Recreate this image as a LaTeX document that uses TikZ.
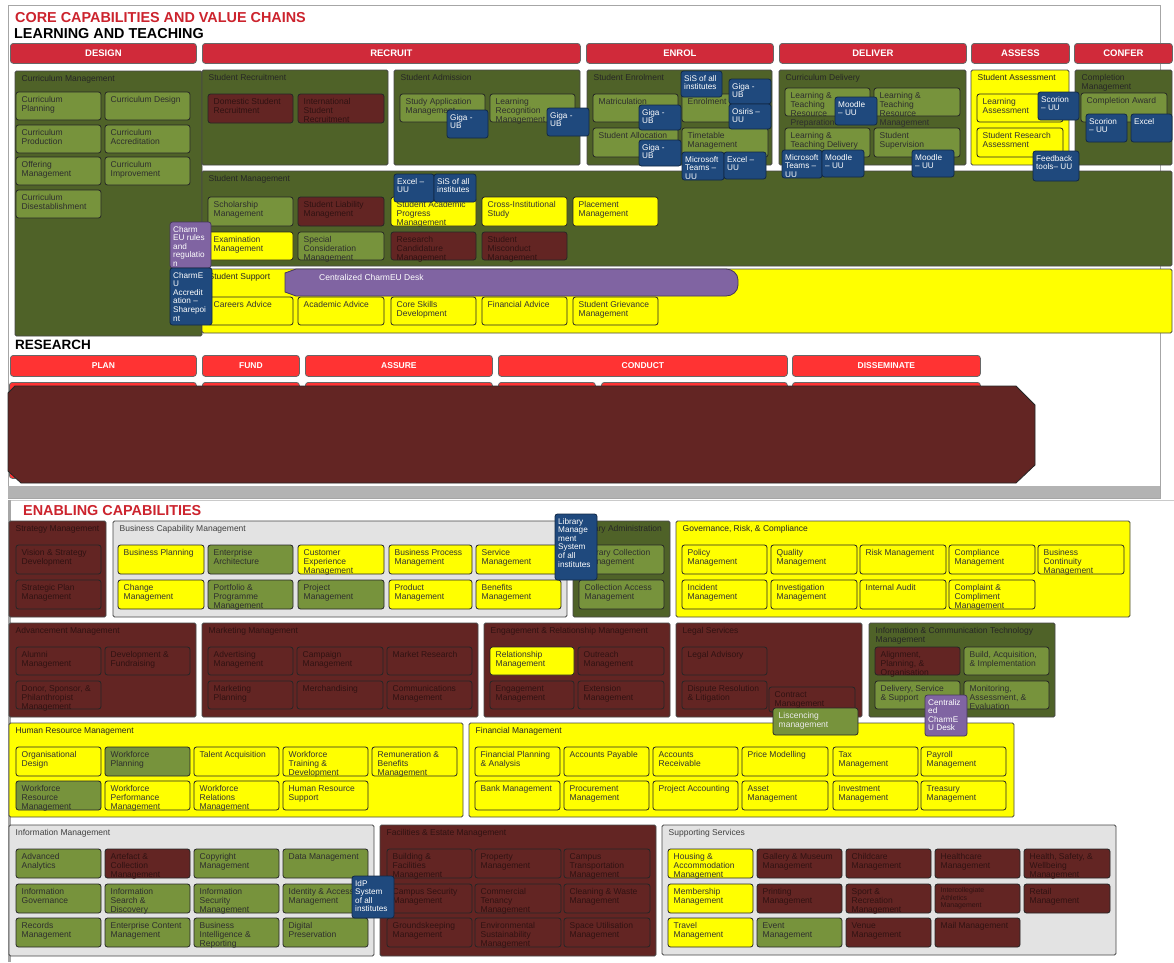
\documentclass[tikz,border=0pt]{standalone}
\usepackage{fontspec}
\setmainfont{Liberation Sans}
\definecolor{dolive}{RGB}{79,98,40}
\definecolor{lolive}{RGB}{119,147,60}
\definecolor{maroonc}{RGB}{99,37,35}
\definecolor{yel}{RGB}{255,255,0}
\definecolor{blu}{RGB}{31,73,125}
\definecolor{purp}{RGB}{128,100,162}
\definecolor{crim}{RGB}{208,42,58}
\definecolor{resred}{RGB}{255,51,51}
\definecolor{lgray}{RGB}{227,227,227}
\definecolor{framec}{RGB}{166,166,166}
\definecolor{edge}{RGB}{38,38,38}
\definecolor{mtext}{RGB}{48,18,18}
\definecolor{titlered}{RGB}{204,35,45}
\newcommand\mybox[7]{%
  \node[cell,#6,minimum width=#4pt,minimum height=#5pt] (#1) at (#2,#3) {};
  \node[txt,#6t] (#1t) at ({#2+5.5},{#3+4.5}) {#7};}
\newcommand\mycont[7]{%
  \node[cont,#6,minimum width=#4pt,minimum height=#5pt] (#1) at (#2,#3) {};
  \node[txt,#6t] (#1t) at ({#2+6.5},{#3+4.5}) {#7};}
\newcommand\myov[7]{%
  \node[cell,#6,minimum width=#4pt,minimum height=#5pt] (#1) at (#2,#3) {};
  \node[otxt] (#1t) at ({#2+3},{#3+4}) {#7};}
\tikzset{
  cell/.style={draw=edge, line width=0.8pt, rounded corners=2.5pt, anchor=north west, inner sep=0pt, outer sep=0pt},
  cont/.style={draw=edge!85, line width=0.8pt, rounded corners=1.5pt, anchor=north west, inner sep=0pt, outer sep=0pt},
  txt/.style={anchor=north west, align=left, inner sep=0pt, font=\fontsize{8.5}{9}\selectfont},
  otxt/.style={anchor=north west, align=left, inner sep=0pt, font=\fontsize{8.2}{8.6}\selectfont, text=white},
  G/.style={fill=lolive}, Gt/.style={text=black!82},
  GL/.style={fill=lolive}, GLt/.style={text=white!92!black},
  Y/.style={fill=yel}, Yt/.style={text=black!80},
  M/.style={fill=maroonc}, Mt/.style={text=mtext},
  B/.style={fill=blu, draw=blu!55!black},
  P/.style={fill=purp, draw=purp!55!black},
  CO/.style={fill=dolive}, COt/.style={text=black!85},
  CM/.style={fill=maroonc}, CMt/.style={text=mtext},
  CY/.style={fill=yel}, CYt/.style={text=black!85},
  CG/.style={fill=lgray}, CGt/.style={text=black!75},
  hdr/.style={draw=edge!70, line width=0.8pt, fill=crim, rounded corners=3pt, text=white, font=\bfseries\fontsize{9.5}{10}\selectfont, inner sep=0pt, anchor=north west},
  rhdr/.style={draw=edge!70, line width=0.8pt, fill=resred, rounded corners=3pt, text=white, font=\bfseries\fontsize{8.5}{9}\selectfont, inner sep=0pt, anchor=north west},
  bigtitle/.style={anchor=west, inner sep=0pt, font=\bfseries\fontsize{14.4}{15}\selectfont}
}
\begin{document}
\begin{tikzpicture}[x=1pt,y=-1pt]
\useasboundingbox (0,0) rectangle (1174,962);
\fill[white] (0,0) rectangle (1174,962);
% frames
\draw[framec, line width=1pt] (8,5) rectangle (1160,498);
\fill[framec!85] (8,486) rectangle (1160,498);
\draw[framec!60, line width=0.8pt] (8,500) -- (1174,500);
\fill[framec] (8,500) rectangle (11,962);
% titles
\node[bigtitle, text=titlered] (tcore) at (15,18) {CORE CAPABILITIES AND VALUE CHAINS};
\node[bigtitle, text=black] (tlt) at (14,33.5) {LEARNING AND TEACHING};
% headers
\node[hdr, minimum width=186pt, minimum height=20pt] (hdesign) at (10,43) {DESIGN};
\node[hdr, minimum width=378pt, minimum height=20pt] (hrecruit) at (202,43) {RECRUIT};
\node[hdr, minimum width=187pt, minimum height=20pt] (henrol) at (586,43) {ENROL};
\node[hdr, minimum width=187pt, minimum height=20pt] (hdeliver) at (779,43) {DELIVER};
\node[hdr, minimum width=98pt, minimum height=20pt] (hassess) at (971,43) {ASSESS};
\node[hdr, minimum width=98pt, minimum height=20pt] (hconfer) at (1074,43) {CONFER};
% Curriculum management
\mycont{cm}{15}{71}{187}{265}{CO}{Curriculum Management}
\mybox{cplan}{16}{92}{85}{28}{G}{Curriculum\\Planning}
\mybox{cdes}{105}{92}{85}{28}{G}{Curriculum Design}
\mybox{cprod}{16}{125}{85}{28}{G}{Curriculum\\Production}
\mybox{cacc}{105}{125}{85}{28}{G}{Curriculum\\Accreditation}
\mybox{coff}{16}{157}{85}{28}{G}{Offering\\Management}
\mybox{cimp}{105}{157}{85}{28}{G}{Curriculum\\Improvement}
\mybox{cdis}{16}{190}{85}{28}{G}{Curriculum\\Disestablishment}
% recruit
\mycont{sr}{202}{70}{186}{95}{CO}{Student Recruitment}
\mybox{dsr}{208}{94}{85}{29}{M}{Domestic Student\\Recruitment}
\mybox{isr}{298}{94}{86}{29}{M}{International\\Student\\Recruitment}
\mycont{sa}{394}{70}{186}{95}{CO}{Student Admission}
\mybox{sam}{400}{94}{85}{28}{G}{Study Application\\Management}
\mybox{lrm}{490}{94}{85}{28}{G}{Learning\\Recognition\\Management}
% enrol
\mycont{se}{587}{70}{185}{95}{CO}{Student Enrolment}
\mybox{mat}{593}{94}{85}{28}{G}{Matriculation}
\mybox{enr}{682}{94}{86}{28}{G}{Enrolment}
\mybox{sal}{593}{128}{85}{29}{G}{Student Allocation}
\mybox{ttm}{682}{128}{86}{29}{G}{Timetable\\Management}
% deliver
\mycont{cdl}{779}{70}{187}{95}{CO}{Curriculum Delivery}
\mybox{ltp}{785}{88}{85}{28}{G}{Learning \&\\Teaching\\Resource\\Preparation}
\mybox{ltm}{874}{88}{86}{28}{G}{Learning \&\\Teaching\\Resource\\Management}
\mybox{ltd}{785}{128}{85}{29}{G}{Learning \&\\Teaching Delivery}
\mybox{ssu}{874}{128}{86}{29}{G}{Student\\Supervision}
% assess
\mycont{sas}{971}{70}{98}{95}{CY}{Student Assessment}
\mybox{las}{977}{94}{86}{28}{Y}{Learning\\Assessment}
\mybox{sra}{977}{128}{86}{29}{Y}{Student Research\\Assessment}
% confer
\mycont{cpm}{1075}{70}{97}{95}{CO}{Completion\\Management}
\mybox{caw}{1081}{93}{86}{29}{G}{Completion Award}
% student management
\mycont{sm}{202}{171}{970}{95}{CO}{Student Management}
\mybox{schm}{208}{197}{85}{29}{G}{Scholarship\\Management}
\mybox{slm}{298}{197}{86}{29}{M}{Student Liability\\Management}
\mybox{sapm}{391}{197}{85}{29}{Y}{Student Academic\\Progress\\Management}
\mybox{cis}{482}{197}{85}{29}{Y}{Cross-Institutional\\Study}
\mybox{plm}{573}{197}{85}{29}{Y}{Placement\\Management}
\mybox{exm}{208}{232}{85}{28}{Y}{Examination\\Management}
\mybox{scm}{298}{232}{86}{28}{G}{Special\\Consideration\\Management}
\mybox{rcm}{391}{232}{85}{28}{M}{Research\\Candidature\\Management}
\mybox{smm}{482}{232}{85}{28}{M}{Student\\Misconduct\\Management}
% student support
\mycont{ssp}{202}{269}{970}{64}{CY}{Student Support}
\mybox{car}{208}{297}{85}{28}{Y}{Careers Advice}
\mybox{aca}{298}{297}{86}{28}{Y}{Academic Advice}
\mybox{csd}{391}{297}{85}{28}{Y}{Core Skills\\Development}
\mybox{fia}{482}{297}{85}{28}{Y}{Financial Advice}
\mybox{sgm}{573}{297}{85}{28}{Y}{Student Grievance\\Management}
\draw[fill=purp, draw=purp!55!black, line width=0.8pt] (296,269) -- (726,269) to[out=0,in=90] (738,280) -- (738,285) to[out=-90,in=0] (726,296) -- (296,296) -- (285,292) -- (285,273) -- cycle;
\node[anchor=west, inner sep=0pt, text=white, font=\fontsize{8.5}{9}\selectfont] (desk) at (319,277.5) {Centralized CharmEU Desk};
% overlays core
\myov{g1}{447}{110}{41}{28}{B}{Giga -\\UB}
\myov{g2}{547}{108}{42}{28}{B}{Giga -\\UB}
\myov{sis1}{681}{71}{41}{26}{B}{SiS of all\\institutes}
\myov{g3}{729}{79}{42}{25}{B}{Giga -\\UB}
\myov{osi}{729}{104}{42}{25}{B}{Osiris –\\UU}
\myov{g4}{639}{105}{42}{25}{B}{Giga -\\UB}
\myov{g5}{639}{140}{42}{26}{B}{Giga -\\UB}
\myov{mt1}{682}{152}{42}{28}{B}{Microsoft\\Teams –\\UU}
\myov{ex1}{724}{152}{42}{27}{B}{Excel –\\UU}
\myov{mo1}{835}{97}{42}{28}{B}{Moodle\\– UU}
\myov{mt2}{782}{150}{40}{28}{B}{Microsoft\\Teams –\\UU}
\myov{mo2}{822}{150}{42}{27}{B}{Moodle\\– UU}
\myov{mo3}{912}{150}{42}{27}{B}{Moodle\\– UU}
\myov{sc1}{1038}{92}{41}{28}{B}{Scorion\\– UU}
\myov{fbt}{1033}{151}{46}{30}{B}{Feedback\\tools– UU}
\myov{sc2}{1086}{114}{41}{28}{B}{Scorion\\– UU}
\myov{ex2}{1131}{114}{41}{28}{B}{Excel}
\myov{ex3}{394}{174}{40}{28}{B}{Excel –\\UU}
\myov{sis2}{434}{174}{42}{28}{B}{SiS of all\\institutes}
\myov{rules}{170}{222}{41}{46}{P}{Charm\\EU rules\\and\\regulatio\\n}
\myov{accr}{170}{268}{42}{57}{B}{CharmE\\U\\Accredit\\ation –\\Sharepoi\\nt}
% research
\node[bigtitle, text=black, font=\bfseries\fontsize{13.5}{14}\selectfont] (tres) at (15,345) {RESEARCH};
\node[rhdr, minimum width=186pt, minimum height=21pt] (rplan) at (10,355) {PLAN};
\node[rhdr, minimum width=97pt, minimum height=21pt] (rfund) at (202,355) {FUND};
\node[rhdr, minimum width=187pt, minimum height=21pt] (rassure) at (305,355) {ASSURE};
\node[rhdr, minimum width=289pt, minimum height=21pt] (rconduct) at (498,355) {CONDUCT};
\node[rhdr, minimum width=188pt, minimum height=21pt] (rdiss) at (792,355) {DISSEMINATE};
\node[rhdr, minimum width=187pt, minimum height=96pt] (r2a) at (9,382) {};
\node[rhdr, minimum width=97pt, minimum height=96pt] (r2b) at (202,382) {};
\node[rhdr, minimum width=187pt, minimum height=96pt] (r2c) at (305,382) {};
\node[rhdr, minimum width=97pt, minimum height=96pt] (r2d) at (498,382) {};
\node[rhdr, minimum width=186pt, minimum height=96pt] (r2e) at (601,382) {};
\node[rhdr, minimum width=188pt, minimum height=96pt] (r2f) at (792,382) {};
\draw[fill=maroonc, draw=edge, line width=0.8pt] (15,386) -- (1016,386) -- (1035,405) -- (1035,465) -- (1016,483) -- (21,483) -- (8,471) -- (8,393) -- cycle;
% enabling
\node[bigtitle, text=titlered] (tena) at (23,510.5) {ENABLING CAPABILITIES};
\mycont{stm}{9}{521}{97}{96}{CM}{Strategy Management}
\mybox{vsd}{16}{545}{85}{29}{M}{Vision \& Strategy\\Development}
\mybox{spm}{16}{580}{85}{29}{M}{Strategic Plan\\Management}
\mycont{bcm}{113}{521}{454}{96}{CG}{Business Capability Management}
\mybox{bpl}{118}{545}{86}{29}{Y}{Business Planning}
\mybox{eaa}{208}{545}{85}{29}{G}{Enterprise\\Architecture}
\mybox{cem}{298}{545}{86}{29}{Y}{Customer\\Experience\\Management}
\mybox{bpm}{389}{545}{83}{29}{Y}{Business Process\\Management}
\mybox{svm}{476}{545}{85}{29}{Y}{Service\\Management}
\mybox{chm}{118}{580}{86}{29}{Y}{Change\\Management}
\mybox{ppm}{208}{580}{85}{29}{G}{Portfolio \&\\Programme\\Management}
\mybox{prm}{298}{580}{86}{29}{G}{Project\\Management}
\mybox{pdm}{389}{580}{83}{29}{Y}{Product\\Management}
\mybox{bem}{476}{580}{85}{29}{Y}{Benefits\\Management}
\mycont{lib}{573}{521}{97}{96}{CO}{Library Administration}
\mybox{lcm}{579}{545}{85}{29}{G}{Library Collection\\Management}
\mybox{cam}{579}{580}{85}{29}{G}{Collection Access\\Management}
\myov{lms}{555}{514}{42}{66}{B}{Library\\Manage\\ment\\System\\of all\\institutes}
\mycont{grc}{676}{521}{454}{96}{CY}{Governance, Risk, \& Compliance}
\mybox{pom}{682}{545}{85}{29}{Y}{Policy\\Management}
\mybox{qum}{771}{545}{86}{29}{Y}{Quality\\Management}
\mybox{rim}{860}{545}{86}{29}{Y}{Risk Management}
\mybox{com}{949}{545}{86}{29}{Y}{Compliance\\Management}
\mybox{bcom}{1038}{545}{86}{29}{Y}{Business\\Continuity\\Management}
\mybox{inm}{682}{580}{85}{29}{Y}{Incident\\Management}
\mybox{ivm}{771}{580}{86}{29}{Y}{Investigation\\Management}
\mybox{iau}{860}{580}{86}{29}{Y}{Internal Audit}
\mybox{ccm}{949}{580}{86}{29}{Y}{Complaint \&\\Compliment\\Management}
\mycont{adv}{9}{623}{187}{94}{CM}{Advancement Management}
\mybox{alm}{16}{647}{85}{28}{M}{Alumni\\Management}
\mybox{dfr}{105}{647}{85}{28}{M}{Development \&\\Fundraising}
\mybox{dsp}{16}{681}{85}{28}{M}{Donor, Sponsor, \&\\Philanthropist\\Management}
\mycont{mkt}{202}{623}{276}{94}{CM}{Marketing Management}
\mybox{adm}{208}{647}{85}{28}{M}{Advertising\\Management}
\mybox{cpg}{297}{647}{86}{28}{M}{Campaign\\Management}
\mybox{mre}{387}{647}{85}{28}{M}{Market Research}
\mybox{mpl}{208}{681}{85}{28}{M}{Marketing\\Planning}
\mybox{mer}{297}{681}{86}{28}{M}{Merchandising}
\mybox{cmm}{387}{681}{85}{28}{M}{Communications\\Management}
\mycont{erm}{484}{623}{186}{94}{CM}{Engagement \& Relationship Management}
\mybox{rem}{490}{647}{84}{28}{Y}{Relationship\\Management}
\mybox{orm}{578}{647}{86}{28}{M}{Outreach\\Management}
\mybox{egm}{490}{681}{84}{28}{M}{Engagement\\Management}
\mybox{exm2}{578}{681}{86}{28}{M}{Extension\\Management}
\mycont{leg}{676}{623}{186}{94}{CM}{Legal Services}
\mybox{lad}{682}{647}{85}{28}{M}{Legal Advisory}
\mybox{drl}{682}{681}{85}{28}{M}{Dispute Resolution\\\& Litigation}
\mybox{ctm}{769}{687}{86}{25}{M}{Contract\\Management}
\mycont{ict}{869}{623}{186}{94}{CO}{Information \& Communication Technology\\Management}
\mybox{apo}{875}{647}{85}{28}{M}{Alignment,\\Planning, \&\\Organisation}
\mybox{bai}{964}{647}{85}{28}{G}{Build, Acquisition,\\\& Implementation}
\mybox{dss}{875}{681}{85}{28}{G}{Delivery, Service\\\& Support}
\mybox{mae}{964}{681}{85}{28}{G}{Monitoring,\\Assessment, \&\\Evaluation}
% HR
\mycont{hrm}{9}{723}{454}{94}{CY}{Human Resource Management}
\mybox{ord}{16}{747}{85}{29}{Y}{Organisational\\Design}
\mybox{wfp}{105}{747}{85}{29}{G}{Workforce\\Planning}
\mybox{tac}{194}{747}{85}{29}{Y}{Talent Acquisition}
\mybox{wtd}{283}{747}{85}{29}{Y}{Workforce\\Training \&\\Development}
\mybox{rbm}{372}{747}{85}{29}{Y}{Remuneration \&\\Benefits\\Management}
\mybox{wrm}{16}{781}{85}{29}{G}{Workforce\\Resource\\Management}
\mybox{wpm}{105}{781}{85}{29}{Y}{Workforce\\Performance\\Management}
\mybox{wlm}{194}{781}{85}{29}{Y}{Workforce\\Relations\\Management}
\mybox{hrs}{283}{781}{85}{29}{Y}{Human Resource\\Support}
% Finance
\mycont{fin}{469}{723}{545}{94}{CY}{Financial Management}
\mybox{fpa}{475}{747}{85}{29}{Y}{Financial Planning\\\& Analysis}
\mybox{apy}{564}{747}{85}{29}{Y}{Accounts Payable}
\mybox{arc}{653}{747}{85}{29}{Y}{Accounts\\Receivable}
\mybox{pmo}{742}{747}{86}{29}{Y}{Price Modelling}
\mybox{taxm}{833}{747}{85}{29}{Y}{Tax\\Management}
\mybox{pay}{921}{747}{85}{29}{Y}{Payroll\\Management}
\mybox{bnk}{475}{781}{85}{29}{Y}{Bank Management}
\mybox{prc}{564}{781}{85}{29}{Y}{Procurement\\Management}
\mybox{pac}{653}{781}{85}{29}{Y}{Project Accounting}
\mybox{asm}{742}{781}{86}{29}{Y}{Asset\\Management}
\mybox{ivt}{833}{781}{85}{29}{Y}{Investment\\Management}
\mybox{trm}{921}{781}{85}{29}{Y}{Treasury\\Management}
% overlays over the financial container
\mybox{lic}{773}{708}{85}{27}{GL}{Liscencing\\management}
\myov{cdesk}{925}{695}{42}{41}{P}{Centraliz\\ed\\CharmE\\U Desk}
% Information management
\mycont{inf}{9}{825}{365}{131}{CG}{Information Management}
\mybox{ada}{16}{849}{85}{29}{G}{Advanced\\Analytics}
\mybox{acm}{105}{849}{85}{29}{M}{Artefact \&\\Collection\\Management}
\mybox{cpy}{194}{849}{85}{29}{G}{Copyright\\Management}
\mybox{dtm}{283}{849}{85}{29}{G}{Data Management}
\mybox{ing}{16}{884}{85}{29}{G}{Information\\Governance}
\mybox{isd}{105}{884}{85}{29}{G}{Information\\Search \&\\Discovery}
\mybox{ism}{194}{884}{85}{29}{G}{Information\\Security\\Management}
\mybox{iam}{283}{884}{85}{29}{G}{Identity \& Access\\Management}
\mybox{rcd}{16}{918}{85}{29}{G}{Records\\Management}
\mybox{ecm}{105}{918}{85}{29}{G}{Enterprise Content\\Management}
\mybox{bir}{194}{918}{85}{29}{G}{Business\\Intelligence \&\\Reporting}
\mybox{dpr}{283}{918}{85}{29}{G}{Digital\\Preservation}
% Facilities
\mycont{fac}{380}{825}{276}{131}{CM}{Facilities \& Estate Management}
\mybox{bfm}{387}{849}{85}{29}{M}{Building \&\\Facilities\\Management}
\mybox{prp}{475}{849}{86}{29}{M}{Property\\Management}
\mybox{ctr}{564}{849}{86}{29}{M}{Campus\\Transportation\\Management}
\mybox{csm}{387}{884}{85}{29}{M}{Campus Security\\Management}
\mybox{ctn}{475}{884}{86}{29}{M}{Commercial\\Tenancy\\Management}
\mybox{cwm}{564}{884}{86}{29}{M}{Cleaning \& Waste\\Management}
\mybox{gkm}{387}{918}{85}{29}{M}{Groundskeeping\\Management}
\mybox{esm}{475}{918}{86}{29}{M}{Environmental\\Sustainability\\Management}
\mybox{sum}{564}{918}{86}{29}{M}{Space Utilisation\\Management}
\myov{idp}{352}{876}{42}{42}{B}{IdP\\System\\of all\\institutes}
% Supporting services
\mycont{sup}{662}{825}{454}{130}{CG}{Supporting Services}
\mybox{ham}{668}{849}{85}{29}{Y}{Housing \&\\Accommodation\\Management}
\mybox{gmm}{757}{849}{85}{29}{M}{Gallery \& Museum\\Management}
\mybox{chc}{846}{849}{85}{29}{M}{Childcare\\Management}
\mybox{hcm}{935}{849}{85}{29}{M}{Healthcare\\Management}
\mybox{hsw}{1024}{849}{86}{29}{M}{Health, Safety, \&\\Wellbeing\\Management}
\mybox{mem}{668}{884}{85}{29}{Y}{Membership\\Management}
\mybox{ptm}{757}{884}{85}{29}{M}{Printing\\Management}
\mybox{srm}{846}{884}{85}{29}{M}{Sport \&\\Recreation\\Management}
\node[cell,M,minimum width=85pt,minimum height=29pt] (iat) at (935,884) {};
\node[txt,Mt,font=\fontsize{7}{7.6}\selectfont] (iatt) at (940.5,887.5) {Intercollegiate\\Athletics\\Management};
\mybox{rtm}{1024}{884}{86}{29}{M}{Retail\\Management}
\mybox{trv}{668}{918}{85}{29}{Y}{Travel\\Management}
\mybox{evm}{757}{918}{85}{29}{G}{Event\\Management}
\mybox{vnm}{846}{918}{85}{29}{M}{Venue\\Management}
\mybox{mlm}{935}{918}{85}{29}{M}{Mail Management}
\end{tikzpicture}
\end{document}
